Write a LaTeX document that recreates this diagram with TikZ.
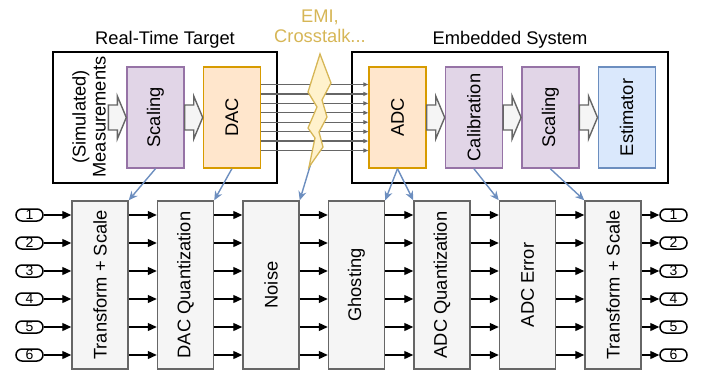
\documentclass[tikz,border=0pt]{standalone}
\usepackage{fontspec}
\setmainfont{Liberation Sans}
\usetikzlibrary{positioning,arrows.meta}

\definecolor{grayfill}{HTML}{F5F5F5}
\definecolor{grayline}{HTML}{666666}
\definecolor{purplefill}{HTML}{E1D5E7}
\definecolor{purpleline}{HTML}{9673A6}
\definecolor{orangefill}{HTML}{FFE6CC}
\definecolor{orangeline}{HTML}{D79B00}
\definecolor{bluefill}{HTML}{DAE8FC}
\definecolor{blueline}{HTML}{6C8EBF}
\definecolor{yellowfill}{HTML}{FFF2CC}
\definecolor{yellowline}{HTML}{D6B656}

\tikzset{
	big/.style={font=\fontsize{18.3}{20}\selectfont},
	outer/.style={draw=black, line width=1.6pt, minimum height=131pt, inner sep=0pt},
	inner/.style={line width=1.4pt, minimum width=57pt, minimum height=101pt, inner sep=0pt, big},
	purp/.style={inner, draw=purpleline, fill=purplefill},
	orng/.style={inner, draw=orangeline, fill=orangefill},
	blu/.style={inner, draw=blueline, fill=bluefill},
	blockarrow/.pic={
		\draw[draw=grayline, fill=grayfill, line width=1.4pt]
			(0,-12.5) -- (9,-12.5) -- (9,-21.5) -- (18,0) -- (9,21.5) -- (9,12.5) -- (0,12.5) -- cycle;
	},
	bbox/.style={draw=grayline, fill=grayfill, line width=1.5pt, minimum width=56pt,
		minimum height=168pt, inner sep=0pt, big},
	term/.style={draw, line width=1.5pt, rounded corners=6pt, minimum width=27pt,
		minimum height=12pt, inner sep=0pt, font=\fontsize{14}{14}\selectfont},
	sig/.style={line width=1.3pt, -{Triangle[length=9pt,width=8pt]}},
	wire/.style={draw=grayline, line width=1.3pt, -{Triangle[length=5pt,width=4pt]}},
	ctl/.style={draw=blueline, line width=1.4pt, -{Stealth[length=9pt,width=8pt]}}
}

\begin{document}
\begin{tikzpicture}[x=1pt,y=-1pt]
	\useasboundingbox (0,0) rectangle (702,370);
	% top boxes
	\node[outer, minimum width=224pt] (target) at (165,117.5) {};
	\node[outer, minimum width=316pt] (embedded) at (510,117.5) {};
	\node[big] (targettitle) at (165,40) {Real-Time Target};
	\node[big] (embtitle) at (510,40) {Embedded System};
	\node[big, text=yellowline, align=center] (emi) at (320,26) {EMI,\\Crosstalk...};
	\node[big, rotate=90, align=center] (meas) at (89,117) {(Simulated)\\Measurements};
	\node[purp] (scal1) at (155.5,117.5) {\rotatebox{90}{Scaling}};
	\node[orng, right=18pt of scal1] (dac) {\rotatebox{90}{DAC}};
	\node[orng] (adc) at (397.5,117.5) {\rotatebox{90}{ADC}};
	\node[purp, right=18pt of adc] (calib) {\rotatebox{90}{Calibration}};
	\node[purp, right=18pt of calib] (scal2) {\rotatebox{90}{Scaling}};
	\node[blu, right=18pt of scal2] (est) {\rotatebox{90}{Estimator}};
	\pic at ([xshift=-18pt]scal1.west) {blockarrow};
	\foreach \n in {scal1, adc, calib, scal2}
		\pic at (\n.east) {blockarrow};
	% wires
	\foreach \k in {0,...,7}
		\draw[wire] ([yshift={(3.5-\k)*9.43pt}]dac.east) -- ([yshift={(3.5-\k)*9.43pt}]adc.west);
	% bottom chain
	\node[bbox] (ts1) at (100,285) {\rotatebox{90}{Transform + Scale}};
	\node[bbox, right=28pt of ts1] (dq) {\rotatebox{90}{DAC Quantization}};
	\node[bbox, right=28pt of dq] (noise) {\rotatebox{90}{Noise}};
	\node[bbox, right=28pt of noise] (ghost) {\rotatebox{90}{Ghosting}};
	\node[bbox, right=28pt of ghost] (aq) {\rotatebox{90}{ADC Quantization}};
	\node[bbox, right=28pt of aq] (ae) {\rotatebox{90}{ADC Error}};
	\node[bbox, right=28pt of ae] (ts2) {\rotatebox{90}{Transform + Scale}};
	\foreach \i in {1,...,6} {
		\node[term] (in\i) at (29.5,187+28*\i) {\i};
		\node[term] (out\i) at (673.5,187+28*\i) {\i};
		\draw[sig] (in\i) -- (in\i -| ts1.west);
		\draw[sig] (in\i -| ts2.east) -- (out\i);
	}
	\foreach \a/\b in {ts1/dq, dq/noise, noise/ghost, ghost/aq, aq/ae, ae/ts2}
		\foreach \i in {1,...,6}
			\draw[sig] (in\i -| \a.east) -- (in\i -| \b.west);
	% disturbance
	\coordinate (boltend) at (311,163);
	\draw[ctl] (boltend) -- (noise.north east);
	\draw[yellowline, fill=yellowfill, line width=1.3pt] (320,54) -- (331,83) -- (322,100) -- (327,117)
		-- (319,132) -- (323,147) -- (309,167) -- (315,138) -- (308,128) -- (317,107) -- (308,92) -- cycle;
	% blue links
	\draw[ctl] (scal1.south) -- (ts1.north east);
	\draw[ctl] (dac.south) -- (dq.north east);
	\draw[ctl] (adc.south) -- (ghost.north east);
	\draw[ctl] (adc.south) -- (aq.north west);
	\draw[ctl] (calib.south) -- (ae.north west);
	\draw[ctl] (scal2.south) -- (ts2.north west);
\end{tikzpicture}
\end{document}
